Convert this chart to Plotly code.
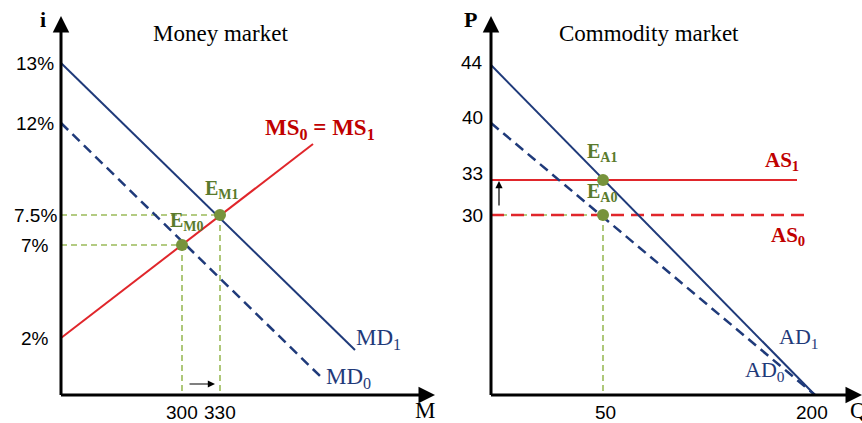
import plotly.graph_objects as go

# ---------------- Data (schematic diagram units) ----------------
# Money market
mm_ytick_labels = ["13%", "12%", "7.5%", "7%", "2%"]
mm_ytick_pos = [332, 272, 180, 150, 57]
mm_xtick_labels = ["300", "330"]
mm_xtick_pos = [121, 159]
md1_x = [0, 294]
md1_y = [332, 45]
md0_x = [0, 261]
md0_y = [272, 17]
ms_x = [0, 252]
ms_y = [57, 251]
em_x = [121, 159]
em_y = [150, 180]
em_names = ["E<sub>M0</sub>", "E<sub>M1</sub>"]

# Commodity market
cm_ytick_labels = ["44", "40", "33", "30"]
cm_ytick_pos = [333, 278, 222, 180]
cm_xtick_labels = ["50", "200"]
cm_xtick_pos = [114, 321]
ad1_x = [0, 324]
ad1_y = [330, 0]
ad0_x = [0, 324]
ad0_y = [272, 0]
as1_x = [0, 306]
as1_y = [215, 215]
as0_x = [0, 315]
as0_y = [180, 180]
ea_x = [112, 112]
ea_y = [180, 215]
ea_names = ["E<sub>A0</sub>", "E<sub>A1</sub>"]

# ---------------- Styles ----------------
NAVY = "#1f3a7a"
RED = "#e0262b"
DRED = "#c00000"
GREEN_LINE = "#9bbb59"
GREEN_PT = "#77933c"
GREEN_TXT = "#5a7a2c"
SERIF = "Liberation Serif, Times New Roman, serif"
SANS = "Liberation Sans, Arial, sans-serif"

fig = go.Figure()

def line(x, y, color, width, dash="solid", xa="x", ya="y"):
    fig.add_trace(go.Scatter(x=x, y=y, mode="lines", xaxis=xa, yaxis=ya,
                             line=dict(color=color, width=width, dash=dash),
                             hoverinfo="skip", showlegend=False, cliponaxis=False))

# ---- Money market ----
for xv, yv in zip(em_x, em_y):
    line([0, xv], [yv, yv], GREEN_LINE, 1.6, "6px,4px")
    line([xv, xv], [yv, 0], GREEN_LINE, 1.6, "6px,4px")
line(md0_x, md0_y, NAVY, 2.5, "10px,6px")
line(md1_x, md1_y, NAVY, 2)
line(ms_x, ms_y, RED, 2)
fig.add_trace(go.Scatter(x=em_x, y=em_y, mode="markers", xaxis="x", yaxis="y",
                         marker=dict(color=GREEN_PT, size=12), showlegend=False,
                         hoverinfo="skip", cliponaxis=False))

# ---- Commodity market ----
for xv, yv in zip(ea_x, ea_y):
    line([0, xv], [yv, yv], GREEN_LINE, 1.6, "6px,4px", "x2", "y2")
line([ea_x[0], ea_x[0]], [ea_y[0], 0], GREEN_LINE, 1.6, "6px,4px", "x2", "y2")
line(as0_x, as0_y, RED, 2.5, "13px,7px", "x2", "y2")
line(as1_x, as1_y, RED, 2, "solid", "x2", "y2")
line(ad0_x, ad0_y, NAVY, 2.5, "10px,6px", "x2", "y2")
line(ad1_x, ad1_y, NAVY, 2, "solid", "x2", "y2")
fig.add_trace(go.Scatter(x=ea_x, y=ea_y, mode="markers", xaxis="x2", yaxis="y2",
                         marker=dict(color=GREEN_PT, size=12), showlegend=False,
                         hoverinfo="skip", cliponaxis=False))

ann = []

def txt(x, y, s, xa, ya, size, color="black", family=SERIF, anchor="center"):
    ann.append(dict(x=x, y=y, xref=xa, yref=ya, text=s, showarrow=False,
                    xanchor=anchor, yanchor="middle",
                    font=dict(size=size, color=color, family=family)))

def arrow(x, y, ax, ay, xa, ya, width, head=2, size=1.0):
    ann.append(dict(x=x, y=y, ax=ax, ay=ay, xref=xa, yref=ya, axref=xa, ayref=ya,
                    text="", showarrow=True, arrowhead=head, arrowsize=size,
                    arrowwidth=width, arrowcolor="black", standoff=0, startstandoff=0))

# axes with arrows
for xa, ya, xend in [("x", "y", 374), ("x2", "y2", 371)]:
    arrow(0, 379, 0, -1.5, xa, ya, 3, 2, 1.1)
    arrow(xend, 0, -1.5, 0, xa, ya, 3, 2, 1.1)

# shift arrows
arrow(154, 11, 127, 11, "x", "y", 1.2, 2, 1.2)
arrow(8, 214, 8, 188, "x2", "y2", 1.2, 2, 1.2)

# tick labels
for lab, p in zip(mm_ytick_labels, mm_ytick_pos):
    txt(-26, p, lab, "x", "y", 19, family=SANS)
for lab, p in zip(mm_xtick_labels, mm_xtick_pos):
    txt(p, -17, lab, "x", "y", 19, family=SANS)
for lab, p in zip(cm_ytick_labels, cm_ytick_pos):
    txt(-19, p, lab, "x2", "y2", 19, family=SANS)
for lab, p in zip(cm_xtick_labels, cm_xtick_pos):
    txt(p, -17, lab, "x2", "y2", 19, family=SANS)

# titles and axis names
txt(159, 362, "Money market", "x", "y", 23)
txt(158, 362, "Commodity market", "x2", "y2", 23)
txt(-18, 376, "<b>i</b>", "x", "y", 22)
txt(364, -15, "M", "x", "y", 23)
txt(-21, 376, "<b>P</b>", "x2", "y2", 22)
txt(367, -15, "Q", "x2", "y2", 23)

# curve labels
txt(259, 266, "<b>MS<sub>0</sub> = MS<sub>1</sub></b>", "x", "y", 23, DRED)
txt(317, 56, "MD<sub>1</sub>", "x", "y", 23, NAVY)
txt(287, 17, "MD<sub>0</sub>", "x", "y", 23, NAVY)
txt(126, 174, "<b>" + em_names[0] + "</b>", "x", "y", 20, GREEN_TXT)
txt(161, 206, "<b>" + em_names[1] + "</b>", "x", "y", 20, GREEN_TXT)

txt(111, 203, "<b>" + ea_names[0] + "</b>", "x2", "y2", 20, GREEN_TXT)
txt(111, 243, "<b>" + ea_names[1] + "</b>", "x2", "y2", 20, GREEN_TXT)
txt(291, 234, "<b>AS<sub>1</sub></b>", "x2", "y2", 21, DRED)
txt(297, 159, "<b>AS<sub>0</sub></b>", "x2", "y2", 21, DRED)
txt(307, 57, "AD<sub>1</sub>", "x2", "y2", 22, NAVY)
txt(274, 24, "AD<sub>0</sub>", "x2", "y2", 22, NAVY)

ax_common = dict(visible=False, showgrid=False, zeroline=False, fixedrange=True)
fig.update_layout(
    width=862, height=423,
    margin=dict(l=0, r=0, t=0, b=0),
    paper_bgcolor="white", plot_bgcolor="white",
    showlegend=False,
    xaxis=dict(domain=[0, 440 / 862], range=[-61, 379], **ax_common),
    yaxis=dict(domain=[0, 1], range=[-28, 395], anchor="x", **ax_common),
    xaxis2=dict(domain=[440 / 862, 1], range=[-51, 371], anchor="y2", **ax_common),
    yaxis2=dict(domain=[0, 1], range=[-28, 395], anchor="x2", **ax_common),
    annotations=ann,
)

fig.write_html("out.html", config={"displayModeBar": False},
               post_script="document.body.style.margin='0';document.body.style.overflow='hidden';")
